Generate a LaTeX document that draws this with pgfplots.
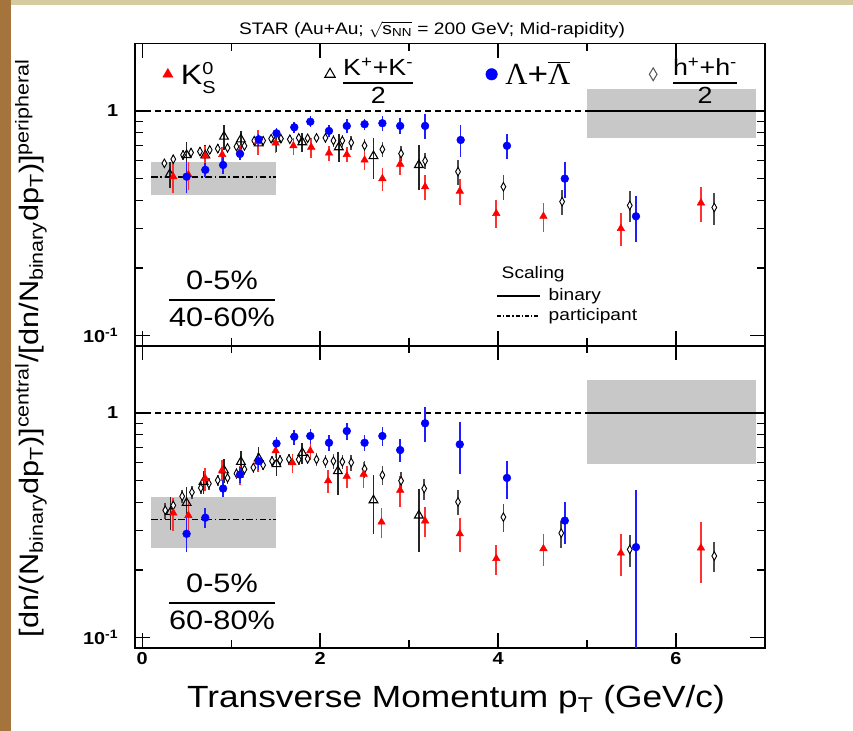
\documentclass[border=0pt]{standalone}
\usepackage{pgfplots}
\pgfplotsset{compat=1.18}
\usepackage{fontspec}
\setmainfont{Liberation Sans}[FakeStretch=1.15]
\newfontfamily\seriffont{Liberation Serif}
\usetikzlibrary{plotmarks}

\definecolor{boxgray}{RGB}{200,200,200}
\definecolor{bgtan}{RGB}{214,202,160}
\definecolor{wood}{RGB}{165,115,60}
\definecolor{errred}{RGB}{255,50,50}
\definecolor{errblue}{RGB}{30,30,255}

% stacked fraction in text font
\newcommand{\fr}[2]{{\setlength{\arrayrulewidth}{1.1pt}\setlength{\tabcolsep}{0pt}%
  \renewcommand{\arraystretch}{0.9}\begin{tabular}{c}#1\\[1pt]\hline\rule{0pt}{0.95em}#2\end{tabular}}}
% tighter one for the legend
\newcommand{\lfr}[2]{{\setlength{\arrayrulewidth}{1pt}\setlength{\tabcolsep}{0pt}%
  \renewcommand{\arraystretch}{0.72}\begin{tabular}{c}#1\\[1pt]\hline\rule{0pt}{0.85em}#2\end{tabular}}}

\begin{document}
\begin{tikzpicture}
\begin{scope}[yshift=548.25pt, x=0.75pt, y=-0.75pt]
  \path[use as bounding box] (0,0) rectangle (853,731);
  \fill[white] (0,0) rectangle (853,731);
  \fill[bgtan] (0,0) rectangle (853,5);
  \fill[wood] (0,0) rectangle (11,731);
\end{scope}

% ---------- upper panel: 0-5% / 40-60% ----------
\begin{axis}[at={(101.25pt,288.75pt)}, anchor=south west,
  scale only axis, width=472.5pt, height=227pt,
  xmin=-0.08, xmax=7, ymin=0.09, ymax=2, ymode=log,
  xtick={0,2,4,6}, minor xtick={1,3,5}, xticklabels={},
  ytick={0.1,1}, yticklabels={10\textsuperscript{-1},1},
  minor ytick={0.2,0.3,0.4,0.5,0.6,0.7,0.8,0.9},
  tick align=inside, major tick length=11pt, minor tick length=6pt,
  axis line style={line width=1.2pt},
  every tick/.style={line width=0.9pt, black},
  tick label style={font=\bfseries\fontsize{13}{15}\selectfont},
  yticklabel style={xshift=-9pt},
  legend columns=4,
  legend style={at={(0.0375,0.8977)}, anchor=west, draw=none, fill=none,
    /tikz/every odd column/.append style={column sep=4pt}},
]
\fill[boxgray] (axis cs:0.1,0.423) rectangle (axis cs:1.5,0.593);
\fill[boxgray] (axis cs:5.0,0.758) rectangle (axis cs:6.9,1.25);
\draw[line width=0.9pt, dash pattern=on 4.5pt off 3pt] (axis cs:-0.08,1) -- (axis cs:5.0,1);
\draw[line width=1.4pt] (axis cs:5.0,1) -- (axis cs:6.9,1);
\draw[line width=1.3pt, dash pattern=on 5pt off 2pt on 1.2pt off 2pt] (axis cs:0.1,0.509) -- (axis cs:1.5,0.509);

% h+ + h- / 2
\addplot[only marks, mark=diamond*, mark size=3.2pt, black, forget plot,
  mark options={fill=white, draw=black, line width=0.7pt, xscale=0.75},
  error bars/.cd, y dir=both, y explicit, error mark=none,
  error bar style={line width=1.2pt, black!70}] coordinates {
 (0.25,0.585) +- (0,0.025) (0.35,0.61) +- (0,0.03) (0.46,0.637) +- (0,0.03)
 (0.55,0.653) +- (0,0.03) (0.65,0.66) +- (0,0.03) (0.76,0.671) +- (0,0.03)
 (0.85,0.68) +- (0,0.03) (0.96,0.685) +- (0,0.03) (1.06,0.694) +- (0,0.03)
 (1.15,0.699) +- (0,0.03) (1.26,0.738) +- (0,0.03) (1.36,0.738) +- (0,0.03)
 (1.45,0.753) +- (0,0.03) (1.56,0.753) +- (0,0.03) (1.66,0.748) +- (0,0.03)
 (1.76,0.759) +- (0,0.035) (1.86,0.756) +- (0,0.035) (1.96,0.759) +- (0,0.035)
 (2.06,0.759) +- (0,0.04) (2.15,0.738) +- (0,0.045) (2.25,0.738) +- (0,0.045)
 (2.35,0.723) +- (0,0.05) (2.50,0.701) +- (0,0.05) (2.70,0.675) +- (0,0.05)
 (2.91,0.646) +- (0,0.05) (3.18,0.60) +- (0,0.05) (3.55,0.537) +- (0,0.07)
 (4.06,0.46) +- (0,0.06) (4.72,0.395) +- (0,0.05) (5.48,0.38) +- (0,0.06)
 (6.43,0.372) +- (0,0.06)
};
% K+ + K- / 2
\addplot[only marks, mark=triangle, mark size=3.8pt, black, forget plot,
  mark options={fill=white, draw=black, line width=0.8pt},
  error bars/.cd, y dir=both, y explicit, error mark=none,
  error bar style={line width=1.2pt, black!85}] coordinates {
 (0.31,0.523) +- (0,0.07) (0.50,0.637) +- (0,0.09) (0.71,0.635) +- (0,0.07)
 (0.92,0.769) +- (0,0.10) (1.11,0.748) +- (0,0.07) (1.31,0.718) +- (0,0.08)
 (1.51,0.748) +- (0,0.09) (1.80,0.726) +- (0,0.07) (2.21,0.69) +- (0,0.10)
 (2.60,0.63) +- (0,0.13) (3.11,0.575) +- (0,0.13)
};
% K0S
\addplot[only marks, mark=triangle*, mark size=3.2pt, red, forget plot,
  error bars/.cd, y dir=both, y explicit, error mark=none,
  error bar style={line width=1.2pt, errred}] coordinates {
 (0.35,0.51) +- (0,0.08) (0.52,0.52) +- (0,0.075) (0.71,0.63) +- (0,0.07)
 (0.90,0.64) +- (0,0.054) (1.10,0.66) +- (0,0.045) (1.30,0.73) +- (0,0.09)
 (1.50,0.72) +- (0,0.07) (1.70,0.70) +- (0,0.06) (1.90,0.69) +- (0,0.07)
 (2.10,0.65) +- (0,0.05) (2.30,0.64) +- (0,0.05) (2.50,0.605) +- (0,0.06)
 (2.70,0.50) +- (0,0.06) (2.90,0.58) +- (0,0.06) (3.18,0.46) +- (0,0.06)
 (3.57,0.44) +- (0,0.06) (3.98,0.35) +- (0,0.05) (4.51,0.34) +- (0,0.05)
 (5.38,0.30) +- (0,0.05) (6.28,0.39) +- (0,0.07)
};
% Lambda + anti-Lambda
\addplot[only marks, mark=*, mark size=2.9pt, blue, forget plot,
  error bars/.cd, y dir=both, y explicit, error mark=none,
  error bar style={line width=1.2pt, errblue}] coordinates {
 (0.50,0.51) +- (0,0.08) (0.71,0.547) +- (0,0.04) (0.91,0.575) +- (0,0.05)
 (1.10,0.644) +- (0,0.04) (1.31,0.748) +- (0,0.04) (1.51,0.796) +- (0,0.04)
 (1.71,0.846) +- (0,0.05) (1.89,0.896) +- (0,0.05) (2.10,0.815) +- (0,0.05)
 (2.30,0.858) +- (0,0.06) (2.50,0.873) +- (0,0.05) (2.70,0.882) +- (0,0.07)
 (2.90,0.858) +- (0,0.07) (3.18,0.858) +- (0,0.11) (3.58,0.743) +- (0,0.12)
 (4.10,0.70) +- (0,0.09) (4.75,0.50) +- (0,0.09) (5.55,0.34) +- (0,0.08)
};

\addlegendimage{only marks, mark=triangle*, mark size=4.3pt, red}
\addlegendentry{\makebox[106pt][l]{\fontsize{21}{24}\selectfont K\rlap{\raisebox{0.34em}{\fontsize{13}{14}\selectfont 0}}\raisebox{-0.33em}{\fontsize{13}{14}\selectfont S}}}
\addlegendimage{only marks, mark=triangle, mark size=4.5pt, black, mark options={fill=white, line width=0.8pt}}
\addlegendentry{\makebox[105pt][l]{\fontsize{17.5}{19}\selectfont\lfr{K\textsuperscript{+}+K\textsuperscript{-}}{2}}}
\addlegendimage{only marks, mark=*, mark size=4.3pt, blue}
\addlegendentry{\makebox[106pt][l]{\fontsize{23}{25}\selectfont{\seriffont Λ}+$\overline{\hbox{\seriffont Λ}}$}}
\addlegendimage{only marks, mark=diamond, mark size=4.8pt, black!65, mark options={xscale=0.8, line width=0.8pt}}
\addlegendentry{\hspace{6pt}\fontsize{17.5}{19}\selectfont\lfr{h\textsuperscript{+}+h\textsuperscript{-}}{2}}
\end{axis}

% ---------- lower panel: 0-5% / 60-80% ----------
\begin{axis}[at={(101.25pt,62.25pt)}, anchor=south west,
  scale only axis, width=472.5pt, height=227pt,
  xmin=-0.08, xmax=7, ymin=0.09, ymax=2, ymode=log,
  xtick={0,2,4,6}, minor xtick={1,3,5}, xticklabels={0,2,4,6},
  ytick={0.1,1}, yticklabels={10\textsuperscript{-1},1},
  minor ytick={0.2,0.3,0.4,0.5,0.6,0.7,0.8,0.9},
  tick align=inside, major tick length=11pt, minor tick length=6pt,
  axis line style={line width=1.2pt},
  every tick/.style={line width=0.9pt, black},
  tick label style={font=\bfseries\fontsize{13}{15}\selectfont},
  yticklabel style={xshift=-9pt},
]
\fill[boxgray] (axis cs:0.1,0.252) rectangle (axis cs:1.5,0.422);
\fill[boxgray] (axis cs:5.0,0.592) rectangle (axis cs:6.9,1.40);
\draw[line width=0.9pt, dash pattern=on 4.5pt off 3pt] (axis cs:-0.08,1) -- (axis cs:5.0,1);
\draw[line width=1.4pt] (axis cs:5.0,1) -- (axis cs:7,1);
\draw[line width=1.3pt, dash pattern=on 5pt off 2pt on 1.2pt off 2pt] (axis cs:0.1,0.336) -- (axis cs:1.5,0.336);

% h+ + h- / 2
\addplot[only marks, mark=diamond*, mark size=3.2pt, black, forget plot,
  mark options={fill=white, draw=black, line width=0.7pt, xscale=0.75},
  error bars/.cd, y dir=both, y explicit, error mark=none,
  error bar style={line width=1.2pt, black!70}] coordinates {
 (0.26,0.369) +- (0,0.03) (0.35,0.388) +- (0,0.03) (0.45,0.426) +- (0,0.03)
 (0.56,0.444) +- (0,0.03) (0.66,0.464) +- (0,0.03) (0.75,0.485) +- (0,0.03)
 (0.85,0.502) +- (0,0.03) (0.96,0.514) +- (0,0.03) (1.06,0.538) +- (0,0.03)
 (1.15,0.561) +- (0,0.03) (1.25,0.572) +- (0,0.03) (1.36,0.586) +- (0,0.03)
 (1.46,0.611) +- (0,0.03) (1.55,0.617) +- (0,0.03) (1.65,0.623) +- (0,0.035)
 (1.76,0.621) +- (0,0.035) (1.86,0.625) +- (0,0.035) (1.96,0.621) +- (0,0.04)
 (2.06,0.608) +- (0,0.04) (2.15,0.611) +- (0,0.045) (2.25,0.606) +- (0,0.045)
 (2.35,0.602) +- (0,0.05) (2.50,0.564) +- (0,0.05) (2.70,0.529) +- (0,0.05)
 (2.91,0.499) +- (0,0.05) (3.17,0.461) +- (0,0.05) (3.55,0.402) +- (0,0.05)
 (4.06,0.344) +- (0,0.05) (4.71,0.292) +- (0,0.04) (5.48,0.247) +- (0,0.04)
 (6.43,0.231) +- (0,0.035)
};
% K+ + K- / 2
\addplot[only marks, mark=triangle, mark size=3.8pt, black, forget plot,
  mark options={fill=white, draw=black, line width=0.8pt},
  error bars/.cd, y dir=both, y explicit, error mark=none,
  error bar style={line width=1.2pt, black!85}] coordinates {
 (0.32,0.363) +- (0,0.06) (0.50,0.398) +- (0,0.07) (0.69,0.494) +- (0,0.06)
 (0.92,0.556) +- (0,0.07) (1.11,0.606) +- (0,0.07) (1.31,0.628) +- (0,0.08)
 (1.51,0.592) +- (0,0.07) (1.80,0.665) +- (0,0.07) (2.20,0.551) +- (0,0.12)
 (2.60,0.409) +- (0,0.12) (3.11,0.35) +- (0,0.11)
};
% K0S
\addplot[only marks, mark=triangle*, mark size=3.2pt, red, forget plot,
  error bars/.cd, y dir=both, y explicit, error mark=none,
  error bar style={line width=1.2pt, errred}] coordinates {
 (0.35,0.359) +- (0,0.06) (0.52,0.35) +- (0,0.055) (0.71,0.511) +- (0,0.06)
 (0.90,0.556) +- (0,0.06) (1.10,0.529) +- (0,0.05) (1.30,0.606) +- (0,0.06)
 (1.50,0.679) +- (0,0.05) (1.69,0.60) +- (0,0.06) (1.89,0.679) +- (0,0.06)
 (2.09,0.499) +- (0,0.06) (2.30,0.523) +- (0,0.06) (2.49,0.534) +- (0,0.07)
 (2.69,0.327) +- (0,0.05) (2.90,0.453) +- (0,0.07) (3.18,0.331) +- (0,0.05)
 (3.57,0.29) +- (0,0.05) (3.98,0.225) +- (0,0.034) (4.51,0.249) +- (0,0.04)
 (5.38,0.238) +- (0,0.05) (6.28,0.251) +- (0,0.076)
};
% Lambda + anti-Lambda
\addplot[only marks, mark=*, mark size=2.9pt, blue, forget plot,
  error bars/.cd, y dir=both, y explicit, error mark=none,
  error bar style={line width=1.2pt, errblue}] coordinates {
 (0.50,0.29) +- (0,0.05) (0.71,0.342) +- (0,0.035) (0.91,0.461) +- (0,0.04)
 (1.10,0.532) +- (0,0.045) (1.31,0.61) +- (0,0.05) (1.51,0.732) +- (0,0.05)
 (1.71,0.784) +- (0,0.06) (1.89,0.79) +- (0,0.06) (2.10,0.737) +- (0,0.06)
 (2.30,0.831) +- (0,0.07) (2.50,0.737) +- (0,0.06) (2.70,0.79) +- (0,0.08)
 (2.90,0.684) +- (0,0.08) (3.18,0.90) +- (0,0.16) (3.57,0.725) +- (0,0.19)
 (4.10,0.514) +- (0,0.10) (4.75,0.332) +- (0,0.07) (5.55,0.253) +- (0,0.20)
};
\end{axis}

% ---------- texts (image pixel coordinates) ----------
\begin{scope}[yshift=548.25pt, x=0.75pt, y=-0.75pt]
  \node[font=\fontsize{12.5}{15}\selectfont] at (432,30)
    {STAR (Au+Au; $\sqrt{\hbox{s\textsubscript{NN}}}$ = 200 GeV; Mid-rapidity)};
  \node[font=\fontsize{23}{26}\selectfont] at (456,700)
    {Transverse Momentum p\textsubscript{T} (GeV/c)};
  \node[rotate=90, font=\fontsize{20}{22}\selectfont] at (31,348)
    {[dn/(N\textsubscript{binary}dp\textsubscript{T})]\textsuperscript{central}/[dn/N\textsubscript{binary}dp\textsubscript{T})]\textsuperscript{peripheral}};
  \node[font=\fontsize{20}{24}\selectfont] at (222,302) {\fr{0-5\%}{40-60\%}};
  \node[font=\fontsize{20}{24}\selectfont] at (222,605) {\fr{0-5\%}{60-80\%}};
  \node[anchor=west, font=\fontsize{12.5}{14}\selectfont] at (497,274) {Scaling};
  \draw[line width=1.2pt] (497,296) -- (540,296);
  \node[anchor=west, font=\fontsize{12.5}{14}\selectfont] at (544,296) {binary};
  \draw[line width=1.2pt, dash pattern=on 3pt off 1.5pt on 1pt off 1.5pt] (497,316) -- (540,316);
  \node[anchor=west, font=\fontsize{12.5}{14}\selectfont] at (544,316) {participant};
\end{scope}
\end{tikzpicture}
\end{document}
